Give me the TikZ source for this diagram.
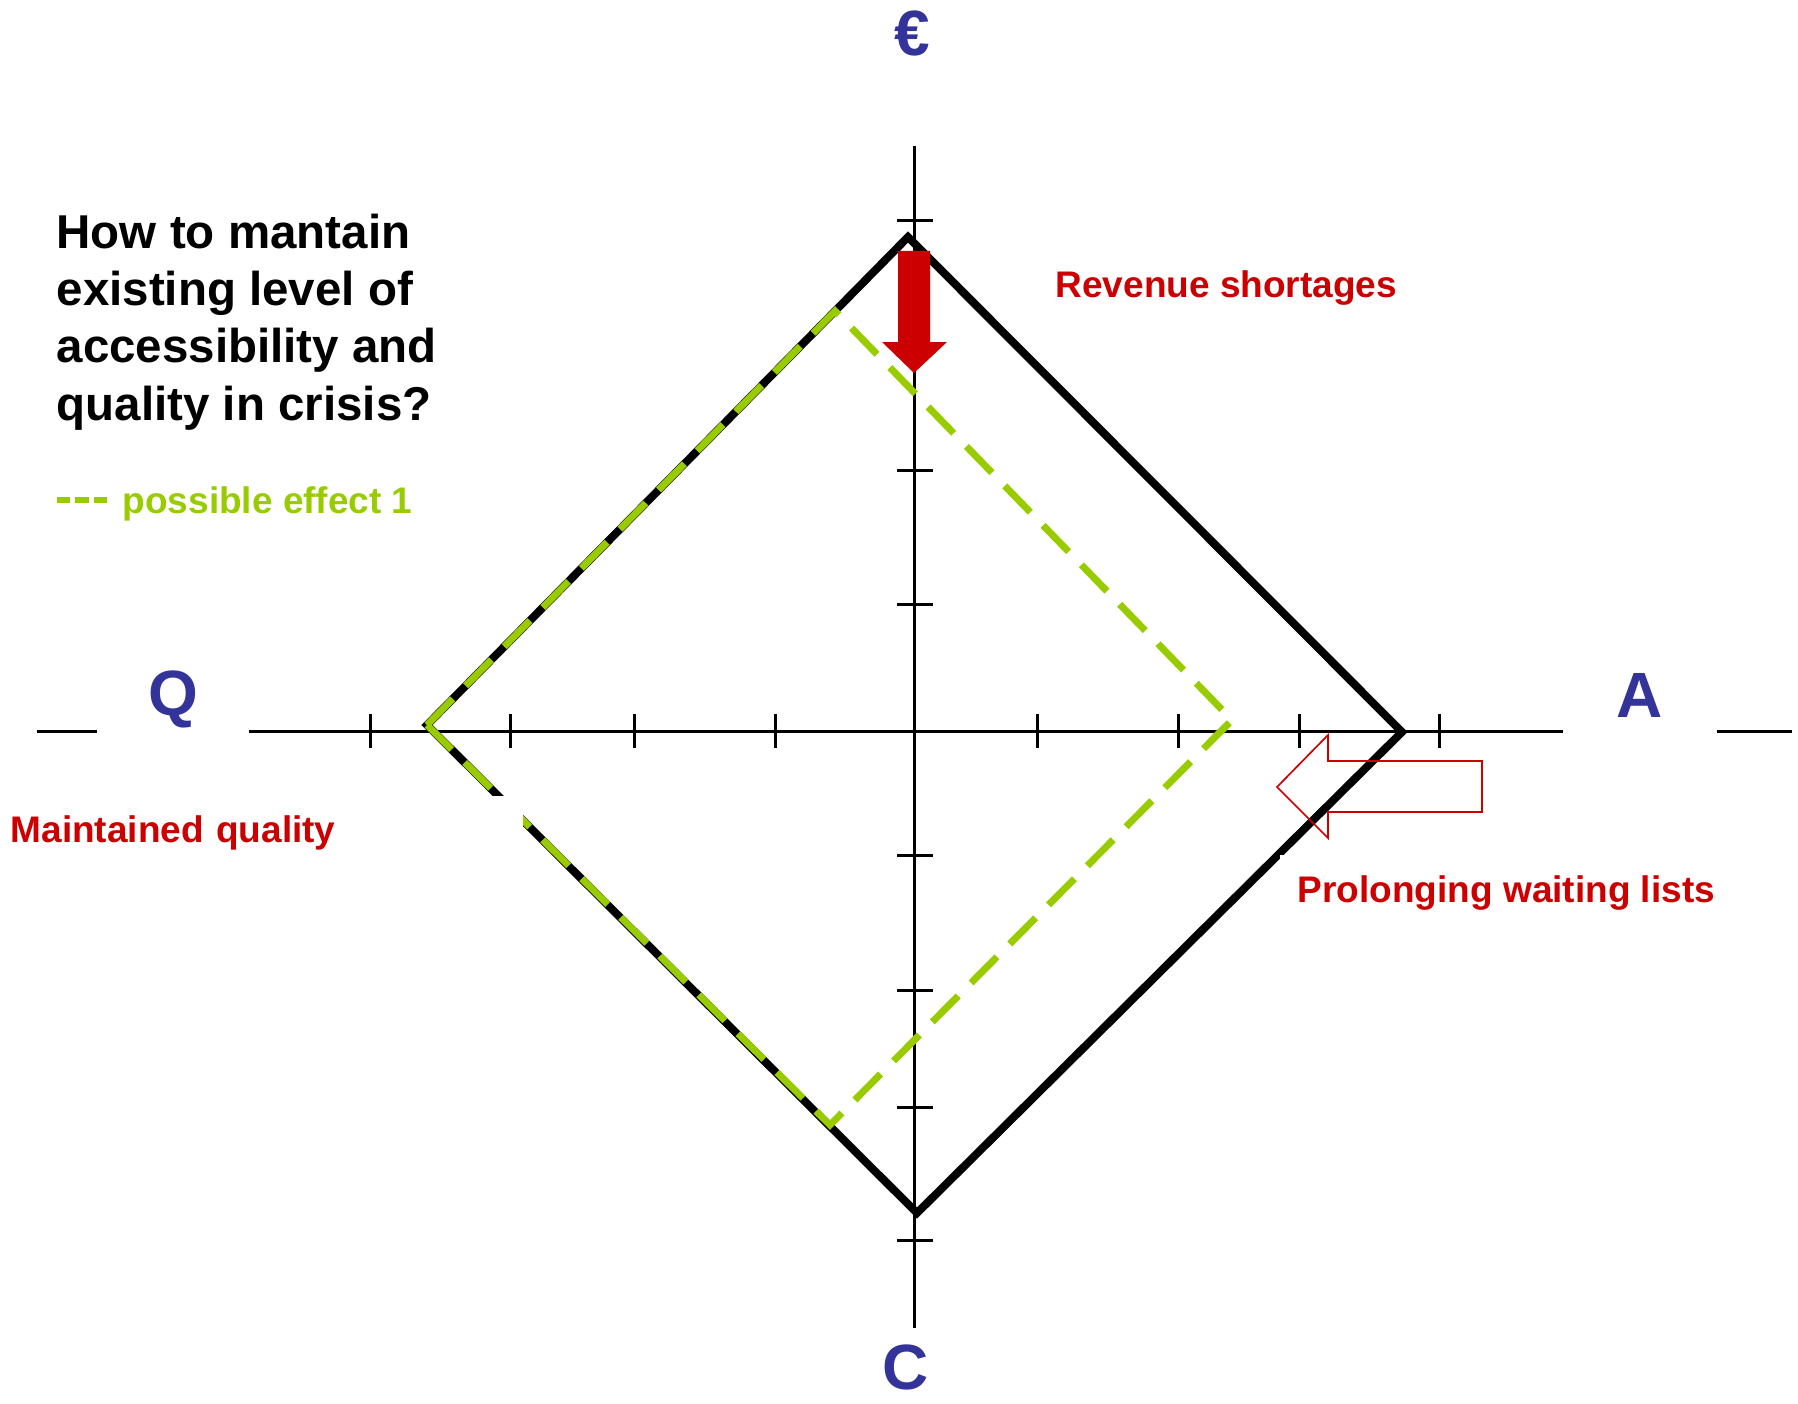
\documentclass[tikz,border=0pt]{standalone}
\usepackage{fontspec}
\setmainfont{Liberation Sans}
\usetikzlibrary{positioning}
\definecolor{qblue}{HTML}{333399}
\definecolor{qred}{HTML}{CC0000}
\definecolor{qgreen}{HTML}{99CC00}

\begin{document}
\begin{tikzpicture}[x=0.3pt, y=-0.3pt,
    axline/.style={line width=0.9pt},
    diam/.style={line width=2.4pt},
    effect/.style={qgreen, line width=2.1pt, dash pattern=on 11pt off 5.5pt},
    dimlbl/.style={font=\fontsize{19.2}{23}\selectfont\bfseries, text=qblue, inner ysep=8pt, anchor=base},
    lbl/.style={font=\fontsize{11.1}{13}\selectfont\bfseries, text=qred, inner sep=0pt, anchor=base west}]

  \useasboundingbox (0,0) rectangle (1798,1404);

  % Axes
  \coordinate (ax-w) at (37,731);
  \coordinate (ax-e) at (1792,731);
  \coordinate (ax-n) at (914,146);
  \coordinate (ax-s) at (914,1328);
  \draw[axline] (ax-w) -- (ax-e);
  \draw[axline] (ax-n) -- (ax-s);
  \foreach \x in {370,510,634,775,1037,1178,1299,1439}
    \draw[axline] (\x,714) -- (\x,748);
  \foreach \y in {221,470,604,855,990,1107,1240}
    \draw[axline] (897,\y) -- (933,\y);

  % Dimensions
  \node[dimlbl] (euro) at (912,56) {€};
  \node[dimlbl, fill=white, minimum width=45.6pt] (qual) at (173,715) {Q};
  \node[dimlbl, fill=white, minimum width=46pt] (acc) at (1640,717) {A};
  \node[dimlbl, inner sep=0.5pt] (cost) at (906,1389) {C};

  % Diamonds
  \coordinate (d-top) at (908,237);
  \coordinate (d-right) at (1402,732);
  \coordinate (d-bot) at (917,1213);
  \coordinate (d-left) at (427,725);
  \coordinate (g-top) at (835,311);
  \coordinate (g-right) at (1232,720);
  \coordinate (g-bot) at (830,1125);
  \draw[diam] (d-top) -- (d-right) -- (d-bot) -- (d-left) -- cycle;
  \draw[effect] (d-left) -- (g-top) -- (g-right) -- (g-bot) -- cycle;

  % Arrows
  \fill[qred] (898,251) -- (930,251) -- (930,342) -- (947,342) -- (914,373)
    -- (882,342) -- (898,342) -- cycle;
  \draw[qred, line width=0.5pt] (1277,787) -- (1328,735) -- (1328,761) -- (1482,761)
    -- (1482,812) -- (1328,812) -- (1328,838) -- cycle;

  % Texts
  \node[anchor=north west, inner sep=0pt, align=left,
    font=\fontsize{14.25}{17.2}\selectfont\bfseries] (quest) at (56,213)
    {How to mantain\\existing level of\\accessibility and\\quality in crisis?};
  \draw[qgreen, line width=2pt, dash pattern=on 4pt off 1.5pt] (57,500) -- (108,500);
  \node[lbl, text=qgreen] (effect1) at (122,513) {possible effect 1};
  \node[lbl] (rev) at (1055,297) {Revenue shortages};
  \node[lbl, fill=white, inner xsep=5.4pt, inner ysep=6pt] (wait) at (1279,902)
    {Prolonging waiting lists};
  \node[lbl, fill=white, inner xsep=5.4pt, inner ysep=5.9pt, text width=148.2pt,
    align=left] (maint) at (-8,842) {Maintained quality};
\end{tikzpicture}
\end{document}
